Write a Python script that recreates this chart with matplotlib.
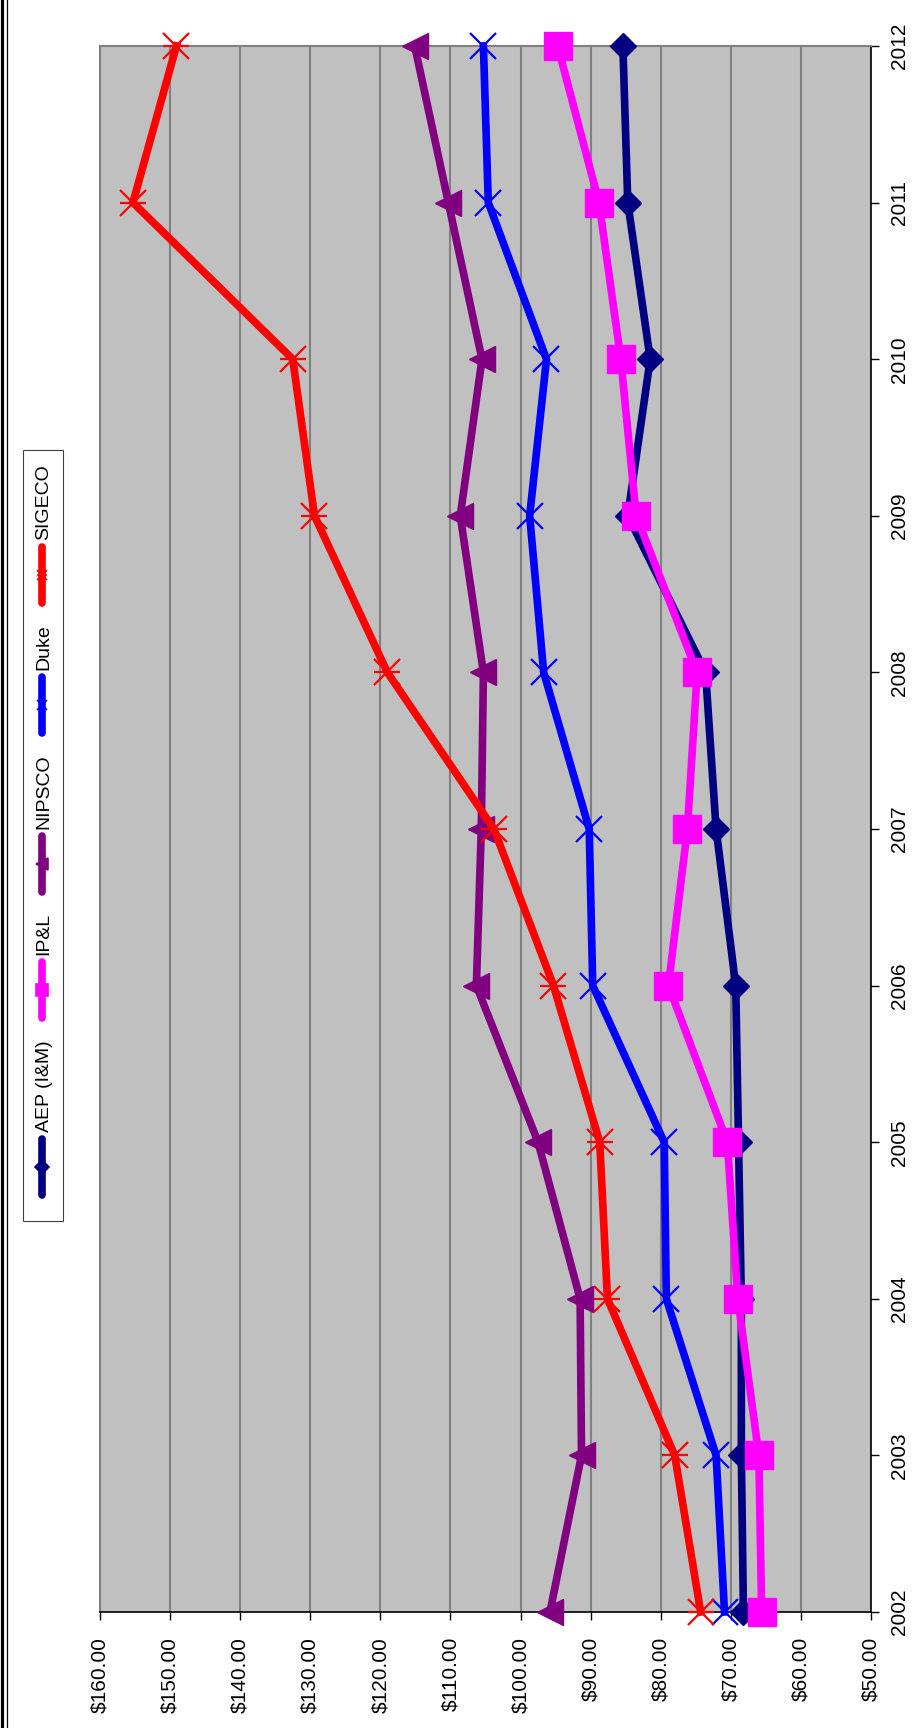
import matplotlib
matplotlib.use('Agg')
import matplotlib.pyplot as plt
from matplotlib.lines import Line2D
from matplotlib.patches import Rectangle

plt.rcParams['font.family'] = ['Liberation Sans', 'DejaVu Sans']

# ---------------- data ----------------
years = [2002, 2003, 2004, 2005, 2006, 2007, 2008, 2009, 2010, 2011, 2012]
series_names = ['AEP (I&M)', 'IP&L', 'NIPSCO', 'Duke', 'SIGECO']
aep = [68.2, 68.5, 68.5, 68.9, 69.3, 72.1, 73.6, 84.7, 81.5, 84.7, 85.4]
ipl = [65.6, 66.0, 69.0, 70.5, 78.9, 76.2, 74.8, 83.5, 85.7, 88.8, 94.7]
nipsco = [95.8, 91.3, 91.5, 97.5, 106.3, 105.6, 105.3, 108.6, 105.5, 110.3, 115.1]
duke = [70.9, 72.1, 79.2, 79.5, 89.7, 90.2, 96.7, 98.7, 96.3, 104.6, 105.3]
sigeco = [74.3, 78.0, 87.6, 88.7, 95.3, 103.8, 119.0, 129.4, 132.5, 155.3, 149.1]
value_ticks = [160, 150, 140, 130, 120, 110, 100, 90, 80, 70, 60, 50]
value_labels = ['$%.2f' % v for v in value_ticks]
year_labels = [str(y) for y in years]

# ---------------- styles ----------------
colors = ['#000080', '#FF00FF', '#800080', '#0000FF', '#FF0000']
markers = ['D', 's', '<', 'x', 'x']
msizes = [13.5, 20, 19, 19, 19]
all_series = [aep, ipl, nipsco, duke, sigeco]

W, H = 922, 1728
fig = plt.figure(figsize=(W / 100, H / 100), dpi=100)
fig.patch.set_facecolor('white')

ax = fig.add_axes([100 / W, (H - 1612) / H, 771 / W, 1566 / H])
ax.set_facecolor('#C0C0C0')

for i, (name, vals) in enumerate(zip(series_names, all_series)):
    filled = markers[i] not in ('x',)
    ax.plot(vals, years, color=colors[i], lw=5.5, marker=markers[i],
            ms=msizes[i], mfc=colors[i] if filled else 'none',
            mec=colors[i], mew=1.6 if not filled else 1.0,
            zorder=3 + i, clip_on=False, solid_joinstyle='miter')
    if name == 'SIGECO':
        ax.plot(vals, years, ls='none', marker='_', ms=19, mew=1.6,
                color=colors[i], zorder=3 + i, clip_on=False)

ax.set_xlim(160, 50)
ax.set_ylim(2002, 2012)

ax.set_xticks(value_ticks)
ax.set_xticklabels(value_labels, rotation=90, fontsize=15)
ax.yaxis.tick_right()
ax.set_yticks(years)
ax.set_yticklabels(year_labels, rotation=90, fontsize=15, va='center')

ax.tick_params(axis='x', direction='out', length=6, width=1, pad=12, colors='black')
ax.tick_params(axis='y', direction='out', length=6, width=1, pad=8, colors='black')
for lbl in ax.get_xticklabels():
    lbl.set_va('top')

ax.grid(axis='x', color='#808080', lw=1.5, zorder=1)
ax.set_axisbelow(True)
for s in ['top', 'left']:
    ax.spines[s].set_color('#808080')
    ax.spines[s].set_linewidth(1.5)
for s in ['bottom', 'right']:
    ax.spines[s].set_color('black')
    ax.spines[s].set_linewidth(1.2)

# ---------------- legend (rotated, drawn manually) ----------------
lax = fig.add_axes([0, 0, 1, 1], zorder=10)
lax.set_xlim(0, W)
lax.set_ylim(H, 0)
lax.axis('off')
lax.add_patch(Rectangle((23, 450), 40, 771, facecolor='white',
                        edgecolor='#404040', lw=0.8))
leg_centers = [1167, 990, 864, 705, 575]
leg_ms = [7, 9, 8, 7, 7]
for i, name in enumerate(series_names):
    c = leg_centers[i]
    lax.plot([42, 42], [c - 28, c + 28], color=colors[i], lw=5.5,
             solid_capstyle='round')
    filled = markers[i] != 'x'
    lax.plot([42], [c], marker=markers[i], ms=leg_ms[i], color=colors[i],
             mfc=colors[i] if filled else 'none', mew=1.2)
    if name == 'SIGECO':
        lax.plot([42], [c], marker='_', ms=7, color=colors[i], mew=1.2)
    lax.text(44, c - 35, name, rotation=90, rotation_mode='anchor',
             ha='left', va='center', fontsize=14)

# left double border
fig.add_artist(Line2D([1.5 / W, 1.5 / W], [0, 1], color='black', lw=2.3,
                      transform=fig.transFigure))
fig.add_artist(Line2D([6.5 / W, 6.5 / W], [0, 1], color='black', lw=0.9,
                      transform=fig.transFigure))

fig.savefig('out.png', dpi=100)
